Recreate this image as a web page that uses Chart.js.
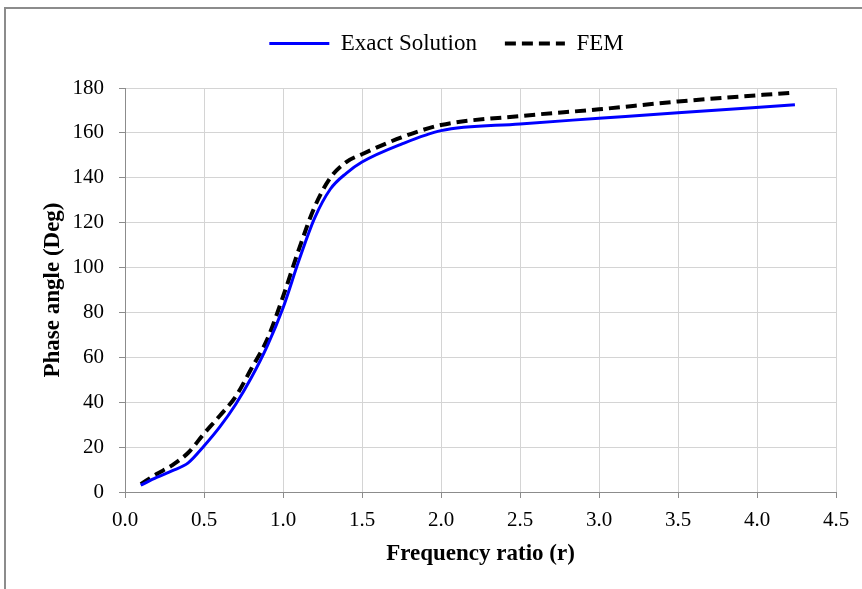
<!DOCTYPE html>
<html><head><meta charset="utf-8">
<script src="https://cdn.jsdelivr.net/npm/chart.js@4.4.0/dist/chart.umd.min.js"></script>
<style>
html,body{margin:0;padding:0;background:#fff;}
#wrap{position:absolute;left:0;top:0;width:862px;height:589px;}
#frame{position:absolute;left:4px;top:7px;width:900px;height:700px;border-top:2px solid #8c8c8c;border-left:2px solid #8c8c8c;}
canvas{position:absolute;left:0;top:0;}
</style></head><body>
<div id="wrap"><div id="frame"></div><canvas id="c" width="862" height="589"></canvas></div>
<script>
const seriesNames = ["Exact Solution", "FEM"];
const exactX = [0.1, 0.2, 0.3, 0.4, 0.5, 0.6, 0.7, 0.8, 0.9, 1.0, 1.1, 1.2, 1.3, 1.4, 1.5, 1.75, 2.0, 2.5, 3.0, 3.5, 4.24];
const exactY = [3, 6.5, 9.5, 13, 20.5, 29, 39, 51, 65, 82, 103, 122, 135, 142, 147, 155, 161, 164, 166.5, 169, 172.5];
const femX = [0.1, 0.2, 0.3, 0.4, 0.5, 0.6, 0.7, 0.8, 0.9, 1.0, 1.1, 1.2, 1.3, 1.4, 1.5, 1.75, 2.0, 2.5, 3.0, 3.5, 4.24];
const femY = [3.5, 8, 12, 17.5, 26, 34, 42.5, 55, 68, 87, 108, 127, 140, 147, 150.5, 158, 163.5, 167.5, 170.5, 174, 178];
const xTitle = "Frequency ratio (r)";
const yTitle = "Phase angle (Deg)";

const toPts = (xs, ys) => xs.map((x, i) => ({x: x, y: ys[i]}));
const FONT = "'Liberation Serif', 'Times New Roman', serif";
const PAD_TOP = 4;

const legendPatch = {
  id: 'legendPatch',
  beforeLayout(chart) {
    const lg = chart.legend;
    if (lg && !lg._patched) {
      const f = lg.fit.bind(lg);
      lg.fit = function() { f(); this.height = 88 - PAD_TOP; };
      lg._patched = true;
    }
  },
  afterLayout(chart) {
    if (chart.legend) { chart.legend.left += 18; }
  }
};

new Chart(document.getElementById('c'), {
  type: 'line',
  data: {
    datasets: [
      {label: seriesNames[0], data: toPts(exactX, exactY), borderColor: '#0000ff', backgroundColor: '#0000ff',
       borderWidth: 3, pointRadius: 0, cubicInterpolationMode: 'monotone', fill: false},
      {label: seriesNames[1], data: toPts(femX, femY), borderColor: '#000000', backgroundColor: '#000000',
       borderWidth: 4, borderDash: [11, 6], pointRadius: 0, cubicInterpolationMode: 'monotone', fill: false}
    ]
  },
  plugins: [legendPatch],
  options: {
    responsive: false,
    animation: false,
    layout: {padding: {left: 39, right: 26, top: PAD_TOP, bottom: 21}},
    plugins: {
      legend: {
        position: 'top',
        labels: {
          usePointStyle: true, pointStyle: 'line', pointStyleWidth: 60,
          padding: 28, color: '#000', font: {family: FONT, size: 23},
          generateLabels: (chart) => {
            const items = Chart.defaults.plugins.legend.labels.generateLabels(chart);
            items.forEach(it => {
              const ds = chart.data.datasets[it.datasetIndex];
              it.lineDash = ds.borderDash || [];
              it.lineWidth = ds.borderWidth;
              it.strokeStyle = ds.borderColor;
              it.pointStyle = 'line';
            });
            return items;
          }
        }
      },
      tooltip: {enabled: false}
    },
    scales: {
      x: {
        type: 'linear', min: 0, max: 4.5,
        ticks: {stepSize: 0.5, color: '#000', font: {family: FONT, size: 21}, padding: 10,
                callback: v => v.toFixed(1)},
        grid: {color: '#d4d4d4', lineWidth: 1, tickLength: 6, tickColor: '#8c8c8c'},
        border: {color: '#8c8c8c', width: 1},
        title: {display: true, text: xTitle, color: '#000', font: {family: FONT, size: 23, weight: 'bold'}, padding: {top: 0, bottom: 0}},
        afterFit: s => { s.height = 589 - 21 - 492; }
      },
      y: {
        min: 0, max: 180,
        ticks: {stepSize: 20, color: '#000', font: {family: FONT, size: 21}, padding: 15},
        grid: {color: '#d4d4d4', lineWidth: 1, tickLength: 6, tickColor: '#8c8c8c'},
        border: {color: '#8c8c8c', width: 1},
        title: {display: true, text: yTitle, color: '#000', font: {family: FONT, size: 23, weight: 'bold'}, padding: {top: 0, bottom: 0}},
        afterFit: s => { s.width = 125 - 39; }
      }
    }
  }
});
</script>
</body></html>
